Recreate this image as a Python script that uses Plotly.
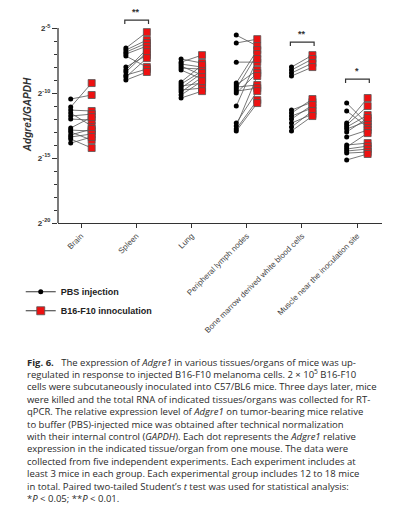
import numpy as np
import plotly.graph_objects as go

# ---------------- data (log2 of Adgre1/GAPDH) ----------------
categories = ["Brain", "Spleen", "Lung", "Peripheral lymph nodes",
              "Bone marrow derived white blood cells", "Muscle near the inoculation site"]

brain_pbs = [-10.46, -11.08, -11.31, -11.54, -11.77, -12.00, -12.69, -12.85, -13.00, -13.23, -13.38, -13.54, -13.85]
brain_b16 = [-10.15, -9.23, -11.38, -12.54, -11.62, -12.08, -11.85, -12.92, -13.62, -12.77, -13.15, -14.23, -13.38]

spleen_pbs = [-6.54, -6.69, -6.85, -7.00, -7.15, -8.00, -8.23, -8.38, -8.62, -8.77, -9.00]
spleen_b16 = [-5.31, -5.92, -6.15, -6.38, -8.00, -7.08, -6.62, -6.85, -8.15, -7.31, -8.38]

lung_pbs = [-7.38, -7.62, -7.77, -7.92, -8.08, -8.23, -9.15, -9.31, -9.46, -9.62, -9.77, -9.92, -10.15, -10.38]
lung_b16 = [-7.69, -7.08, -8.00, -8.62, -8.15, -8.92, -7.85, -8.31, -9.23, -8.46, -9.62, -8.77, -9.08, -9.85]

pln_pbs = [-5.54, -6.15, -7.62, -9.23, -9.38, -9.54, -9.69, -9.85, -10.00, -11.00, -12.31, -12.54, -12.77, -12.92]
pln_b16 = [-6.38, -5.85, -7.62, -6.69, -8.23, -9.38, -7.00, -9.62, -8.46, -7.38, -9.85, -8.69, -10.54, -10.77]

bm_pbs = [-8.00, -8.23, -8.46, -8.69, -11.31, -11.54, -11.77, -12.00, -12.31, -12.62, -12.92]
bm_b16 = [-7.08, -7.38, -7.69, -8.00, -10.69, -10.46, -11.15, -10.92, -11.62, -11.38, -11.77]

muscle_pbs = [-10.77, -11.38, -12.31, -12.46, -12.62, -12.77, -13.00, -13.38, -14.00, -14.15, -14.31, -14.46, -14.62, -15.15]
muscle_b16 = [-12.38, -12.62, -10.38, -11.00, -11.69, -12.15, -11.92, -12.85, -13.85, -13.08, -14.08, -14.31, -14.54, -14.69]

pbs_groups = [brain_pbs, spleen_pbs, lung_pbs, pln_pbs, bm_pbs, muscle_pbs]
b16_groups = [brain_b16, spleen_b16, lung_b16, pln_b16, bm_b16, muscle_b16]

y_tick_exps = [-5, -10, -15, -20]
sig_index = [1, 4, 5]
sig_label = ["**", "**", "*"]
sig_level = [-4.38, -6.08, -8.92]   # log2 height of brackets

caption_lines = [
    "<b>Fig. 6.</b>   The expression of <i>Adgre1</i> in various tissues/organs of mice was up-",
    "regulated in response to injected B16-F10 melanoma cells. 2 × 10<sup>5</sup> B16-F10",
    "cells were subcutaneously inoculated into C57/BL6 mice. Three days later, mice",
    "were killed and the total RNA of indicated tissues/organs was collected for RT-",
    "qPCR. The relative expression level of <i>Adgre1</i> on tumor-bearing mice relative",
    "to buffer (PBS)-injected mice was obtained after technical normalization",
    "with their internal control (<i>GAPDH</i>). Each dot represents the <i>Adgre1</i> relative",
    "expression in the indicated tissue/organ from one mouse. The data were",
    "collected from five independent experiments. Each experiment includes at",
    "least 3 mice in each group. Each experimental group includes 12 to 18 mice",
    "in total. Paired two-tailed Student’s <i>t</i> test was used for statistical analysis:",
    "*<i>P</i> &lt; 0.05; **<i>P</i> &lt; 0.01.",
]

# ---------------- figure ----------------
OFF = 0.19
XMIN, XMAX = -0.42, 5.45
Y_BOTTOM, Y_TOP = -20, -3.3

fig = go.Figure()

# connecting lines
lx, ly = [], []
for i, (p, b) in enumerate(zip(pbs_groups, b16_groups)):
    for vp, vb in zip(p, b):
        lx += [i - OFF, i + OFF, None]
        ly += [2.0 ** vp, 2.0 ** vb, None]
fig.add_trace(go.Scatter(x=lx, y=ly, mode="lines", line=dict(color="#555555", width=0.8),
                         showlegend=False, hoverinfo="skip"))

px_, py_, rx_, ry_ = [], [], [], []
for i, (p, b) in enumerate(zip(pbs_groups, b16_groups)):
    px_ += [i - OFF] * len(p)
    py_ += [2.0 ** v for v in p]
    rx_ += [i + OFF] * len(b)
    ry_ += [2.0 ** v for v in b]

fig.add_trace(go.Scatter(x=px_, y=py_, mode="markers",
                         marker=dict(symbol="circle", size=5, color="black"),
                         showlegend=False, cliponaxis=False))
fig.add_trace(go.Scatter(x=rx_, y=ry_, mode="markers",
                         marker=dict(symbol="square", size=7, color="#ee1111",
                                     line=dict(color="#555555", width=0.8)),
                         showlegend=False, cliponaxis=False))

# legend entries
fig.add_trace(go.Scatter(x=[None], y=[None], mode="lines+markers", name="<b>PBS injection</b>",
                         line=dict(color="#333333", width=1),
                         marker=dict(symbol="circle", size=5, color="black")))
fig.add_trace(go.Scatter(x=[None], y=[None], mode="lines+markers", name="<b>B16-F10 innoculation</b>",
                         line=dict(color="#333333", width=1),
                         marker=dict(symbol="square", size=8, color="#ee1111",
                                     line=dict(color="#555555", width=0.8))))

# significance brackets
for idx, lab, lev in zip(sig_index, sig_label, sig_level):
    top = 2.0 ** lev
    tip = 2.0 ** (lev - 0.3)
    fig.add_shape(type="path", xref="x", yref="y",
                  path=f"M {idx-0.21},{tip} L {idx-0.21},{top} L {idx+0.22},{top} L {idx+0.22},{tip}",
                  line=dict(color="#333333", width=1.2))
    fig.add_annotation(x=idx, y=np.log10(top), xref="x", yref="y", text=f"<b>{lab}</b>",
                       showarrow=False, yanchor="bottom", yshift=1,
                       font=dict(size=9, color="#333333", family="Liberation Sans, Arial"))

# y axis line only from 2^-20 to 2^-5
fig.add_shape(type="line", xref="paper", yref="y", x0=0, x1=0,
              y0=2.0 ** y_tick_exps[-1], y1=2.0 ** y_tick_exps[0],
              line=dict(color="#333333", width=1.3))

minor_vals = [2.0 ** e for e in range(-6, -20, -1) if e not in y_tick_exps]

fig.update_layout(
    width=395, height=511,
    margin=dict(l=58, r=13, t=6, b=288, autoexpand=False),
    plot_bgcolor="white", paper_bgcolor="white",
    font=dict(family="Liberation Sans, Arial", color="#333333"),
    xaxis=dict(range=[XMIN, XMAX], tickmode="array", tickvals=list(range(len(categories))),
               ticktext=categories, tickangle=-45, ticks="outside", ticklen=4, tickwidth=1.2,
               tickcolor="#333333", showline=True, linecolor="#333333", linewidth=1.3,
               showgrid=False, zeroline=False, automargin=False,
               tickfont=dict(size=8, color="#444444")),
    yaxis=dict(type="log", range=[np.log10(2.0 ** Y_BOTTOM), np.log10(2.0 ** Y_TOP)],
               tickmode="array", tickvals=[2.0 ** e for e in y_tick_exps],
               ticktext=[f"<b>2<sup>{e}</sup></b>" for e in y_tick_exps],
               ticks="outside", ticklen=5, tickwidth=1.2, tickcolor="#333333",
               minor=dict(tickmode="array", tickvals=minor_vals, ticks="outside", ticklen=3,
                          tickwidth=1, tickcolor="#333333", showgrid=False),
               showline=False, showgrid=False, zeroline=False, automargin=False,
               tickfont=dict(size=8, color="#333333"),
               title=dict(text="<b><i>Adgre1/GAPDH</i></b>", font=dict(size=10, color="#333333"),
                          standoff=4)),
    legend=dict(x=-0.115, y=-0.25, xanchor="left", yanchor="top",
                font=dict(size=9, color="#222222"), itemwidth=30, tracegroupgap=2,
                bgcolor="rgba(0,0,0,0)"),
)

# caption
for k, line in enumerate(caption_lines):
    py = 362 + 12.4 * k
    fig.add_annotation(xref="paper", yref="paper", x=(25 - 58) / 324, y=(223 - py) / 217,
                       xanchor="left", yanchor="middle", showarrow=False, align="left",
                       text=line, font=dict(family="Open Sans, Noto Sans", size=9.5, color="#2a2a2a"))

fig.write_html("out.html", config={"displayModeBar": False},
               post_script="document.body.style.margin='0';document.body.style.overflow='hidden';")
